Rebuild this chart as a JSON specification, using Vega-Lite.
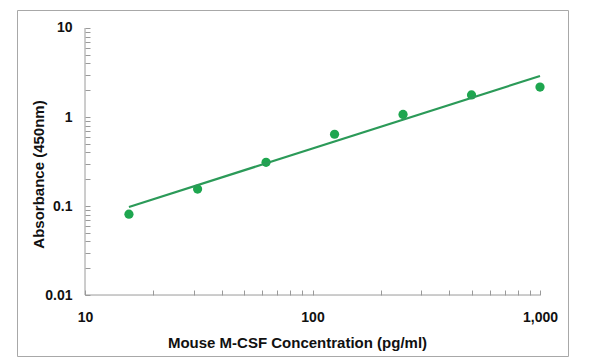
{
  "$schema": "https://vega.github.io/schema/vega-lite/v6.json",
  "width": 551,
  "height": 346,
  "autosize": {"type": "none"},
  "padding": {"left": 17, "top": 10, "right": 32, "bottom": 8},
  "background": "white",
  "config": {
    "view": {"stroke": "#a8a8a8", "strokeWidth": 1},
    "font": "Liberation Sans",
    "axis": {
      "grid": false,
      "domain": false,
      "tickColor": "#9a9a9a",
      "tickSize": -5,
      "labelFont": "Liberation Sans",
      "labelFontSize": 14,
      "labelFontWeight": "bold",
      "labelColor": "#111111",
      "titleFont": "Liberation Sans",
      "titleFontSize": 15,
      "titleFontWeight": "bold",
      "titleColor": "#111111",
      "labelOverlap": false,
      "labelBound": false,
      "labelFlush": false
    }
  },
  "datasets": {
    "points": [
      {"conc": 15.6, "od": 0.081},
      {"conc": 31.25, "od": 0.155},
      {"conc": 62.5, "od": 0.31},
      {"conc": 125, "od": 0.64},
      {"conc": 250, "od": 1.07},
      {"conc": 500, "od": 1.77},
      {"conc": 1000, "od": 2.17}
    ],
    "fit": [
      {"conc": 15.6, "od": 0.0975},
      {"conc": 1000, "od": 2.89}
    ],
    "xaxis": [{"x": 10, "x2": 1000, "y": 0.01}],
    "yaxis": [{"x": 10, "y": 0.01, "y2": 10}]
  },
  "layer": [
    {
      "data": {"name": "points"},
      "mark": {"type": "point", "filled": true, "shape": "circle", "size": 85, "color": "#1ea64f", "opacity": 1},
      "encoding": {
        "x": {
          "field": "conc", "type": "quantitative",
          "scale": {"type": "log", "domain": [5.024, 1327.6], "nice": false},
          "axis": {
            "orient": "bottom",
            "offset": -61,
            "values": [10,20,30,40,50,60,70,80,90,100,200,300,400,500,600,700,800,900,1000],
            "labelExpr": "indexof([10,100,1000], datum.value) >= 0 ? format(datum.value, ',') : ''",
            "labelPadding": 20,
            "title": "Mouse M-CSF Concentration (pg/ml)",
            "titleX": 280,
            "titleY": 47,
            "titleBaseline": "middle",
            "titleAlign": "center",
            "titleAnchor": null
          }
        },
        "y": {
          "field": "od", "type": "quantitative",
          "scale": {"type": "log", "domain": [0.002065, 15.93], "nice": false},
          "axis": {
            "orient": "left",
            "offset": -68,
            "values": [0.01,0.02,0.03,0.04,0.05,0.06,0.07,0.08,0.09,0.1,0.2,0.3,0.4,0.5,0.6,0.7,0.8,0.9,1,2,3,4,5,6,7,8,9,10],
            "labelExpr": "indexof([0.01,0.1,1,10], datum.value) >= 0 ? '' + datum.value : ''",
            "labelPadding": 18,
            "title": "Absorbance (450nm)",
            "titleX": -47,
            "titleY": 164,
            "titleBaseline": "middle",
            "titleAlign": "center",
            "titleAngle": -90,
            "titleAnchor": null
          }
        }
      }
    },
    {
      "data": {"name": "xaxis"},
      "mark": {"type": "rule", "color": "#9a9a9a", "strokeWidth": 1},
      "encoding": {
        "x": {"field": "x", "type": "quantitative"},
        "x2": {"field": "x2"},
        "y": {"field": "y", "type": "quantitative"}
      }
    },
    {
      "data": {"name": "yaxis"},
      "mark": {"type": "rule", "color": "#9a9a9a", "strokeWidth": 1},
      "encoding": {
        "x": {"field": "x", "type": "quantitative"},
        "y": {"field": "y", "type": "quantitative"},
        "y2": {"field": "y2"}
      }
    },
    {
      "data": {"name": "fit"},
      "mark": {"type": "line", "color": "#2b9a58", "strokeWidth": 2.2},
      "encoding": {
        "x": {"field": "conc", "type": "quantitative"},
        "y": {"field": "od", "type": "quantitative"}
      }
    }
  ]
}
